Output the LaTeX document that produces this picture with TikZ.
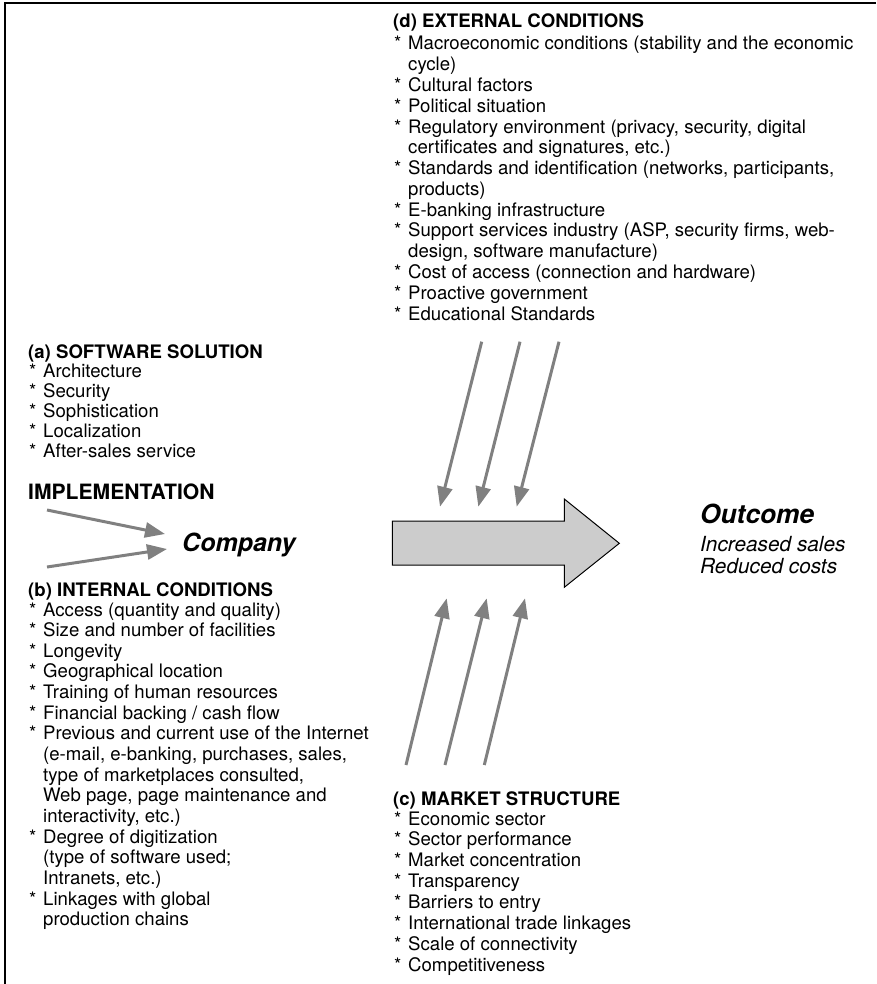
\documentclass[tikz,border=0pt]{standalone}
\usepackage{fontspec}
\setmainfont{TeX Gyre Heros}
\usetikzlibrary{arrows.meta}
\definecolor{arrgray}{HTML}{808080}
\definecolor{bigfill}{HTML}{CCCCCC}
\newcommand{\listblock}[5]{%
  \foreach \s/\t [count=\i] in {#5}{%
    \ifnum\s=1 \node[txt] (#1s\i) at (#2+1,{#3+(\i-1)*#4}) {*};\fi
    \node[txt] (#1\i) at (#2+15,{#3+(\i-1)*#4}) {\t};
  }}
\begin{document}
\begin{tikzpicture}[x=1pt,y=-1pt,
  txt/.style={anchor=base west, inner sep=0pt, font=\fontsize{18.6}{20}\selectfont},
  hd/.style={anchor=base west, inner sep=0pt, font=\fontsize{18.6}{20}\selectfont\bfseries},
  thinarrow/.style={draw=arrgray, line width=3pt, -{Triangle[length=20pt,width=15pt]}},
  bigarrow/.style={draw=black, fill=bigfill, line width=1pt, line join=miter}]
\useasboundingbox (0,0) rectangle (876,984);
% frame
\draw[line width=1.5pt] (5,984) -- (5,3) -- (876,3);

% (d) external conditions
\node[hd] (dh) at (393,28) {(d) EXTERNAL CONDITIONS};
\listblock{d}{393}{50}{20.77}{1/Macroeconomic conditions (stability and the economic,
0/cycle),
1/Cultural factors,
1/Political situation,
1/{Regulatory environment (privacy, security, digital},
0/{certificates and signatures, etc.)},
1/{Standards and identification (networks, participants,},
0/products),
1/E-banking infrastructure,
1/{Support services industry (ASP, security firms, web-},
0/{design, software manufacture)},
1/Cost of access (connection and hardware),
1/Proactive government,
1/Educational Standards}

% (a) software solution
\node[hd] (ah) at (28,358.5) {(a) SOFTWARE SOLUTION};
\listblock{a}{28}{377.5}{20}{1/Architecture,1/Security,1/Sophistication,1/Localization,1/After-sales service}

% implementation / company
\node[anchor=base west, inner sep=0pt, font=\fontsize{21.1}{24}\selectfont\bfseries] (impl) at (28,499.5) {IMPLEMENTATION};
\node[anchor=base west, inner sep=0pt, font=\fontsize{25}{28}\selectfont\bfseries\itshape] (comp) at (182,551) {Company};

% (b) internal conditions
\node[hd] (bh) at (28,596) {(b) INTERNAL CONDITIONS};
\listblock{b}{28}{616}{20.65}{1/Access (quantity and quality),
1/Size and number of facilities,
1/Longevity,
1/Geographical location,
1/Training of human resources,
1/{Financial backing / cash flow},
1/Previous and current use of the Internet,
0/{(e-mail, e-banking, purchases, sales,},
0/{type of marketplaces consulted,},
0/{Web page, page maintenance and},
0/{interactivity, etc.)},
1/Degree of digitization,
0/(type of software used;,
0/{Intranets, etc.)},
1/Linkages with global,
0/production chains}

% (c) market structure
\node[hd] (ch) at (393,805) {(c) MARKET STRUCTURE};
\listblock{c}{393}{825}{20.9}{1/Economic sector,
1/Sector performance,
1/Market concentration,
1/Transparency,
1/Barriers to entry,
1/International trade linkages,
1/Scale of connectivity,
1/Competitiveness}

% outcome
\node[anchor=base west, inner sep=0pt, font=\fontsize{26.3}{30}\selectfont\bfseries\itshape] (out) at (700,523) {Outcome};
\node[anchor=base west, inner sep=0pt, font=\fontsize{20.8}{24}\selectfont\itshape] (out1) at (700,551) {Increased sales};
\node[anchor=base west, inner sep=0pt, font=\fontsize{20.8}{24}\selectfont\itshape] (out2) at (700,573) {Reduced costs};

% big arrow
\draw[bigarrow] (392.3,521) -- (564.3,521) -- (564.3,499) -- (619.3,543.3) -- (564.3,587.3) -- (564.3,565) -- (392.3,565) -- cycle;

% arrow end points
\coordinate (dA1) at (481.7,341.7); \coordinate (dB1) at (440,506.7);
\coordinate (dA2) at (520,341.7);   \coordinate (dB2) at (478.3,506.7);
\coordinate (dA3) at (559,341.7);   \coordinate (dB3) at (516.7,506.7);
\coordinate (uA1) at (406,765);     \coordinate (uB1) at (446.7,598.3);
\coordinate (uA2) at (445,765);     \coordinate (uB2) at (486.7,598.3);
\coordinate (uA3) at (484.3,765);   \coordinate (uB3) at (525,598.3);
\coordinate (lA1) at (47,510);      \coordinate (lB1) at (165,534);
\coordinate (lA2) at (47,567);      \coordinate (lB2) at (167,549);
\draw[thinarrow] (dA1) -- (dB1);
\draw[thinarrow] (dA2) -- (dB2);
\draw[thinarrow] (dA3) -- (dB3);
\draw[thinarrow] (uA1) -- (uB1);
\draw[thinarrow] (uA2) -- (uB2);
\draw[thinarrow] (uA3) -- (uB3);
\draw[thinarrow] (lA1) -- (lB1);
\draw[thinarrow] (lA2) -- (lB2);
\end{tikzpicture}
\end{document}
